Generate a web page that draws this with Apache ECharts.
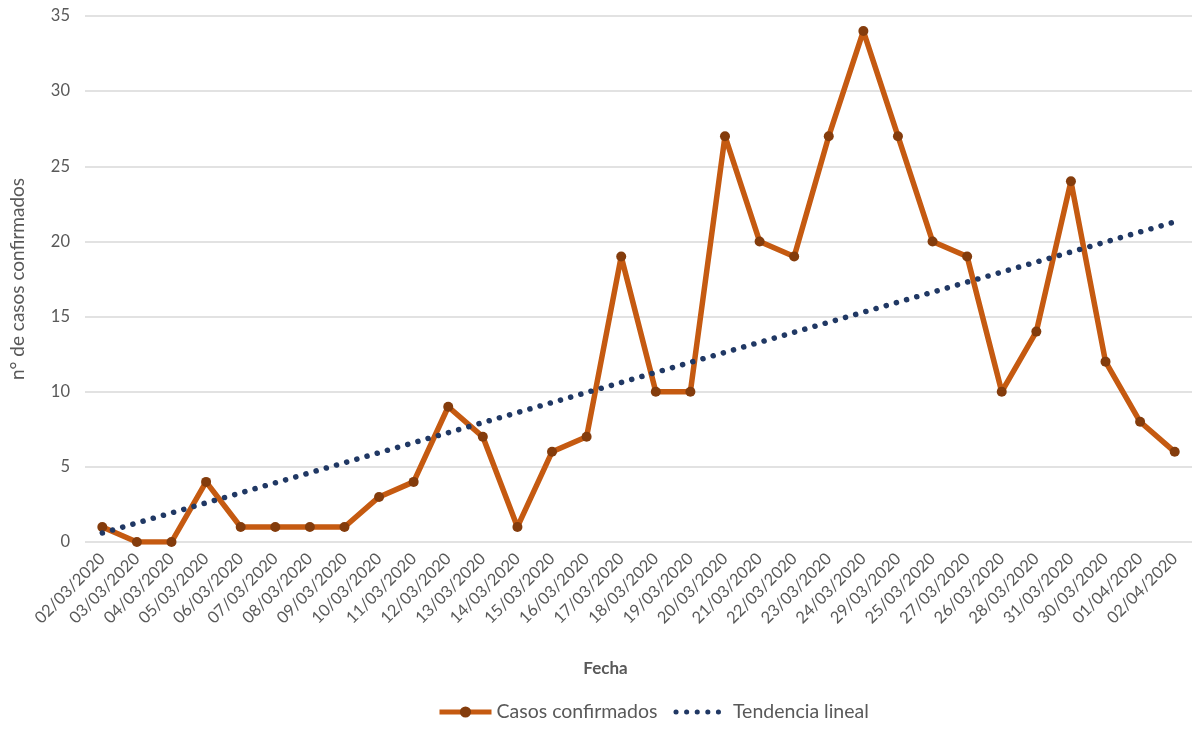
<!DOCTYPE html>
<html>
<head>
<meta charset="utf-8">
<script src="https://cdn.jsdelivr.net/npm/echarts@6/dist/echarts.min.js"></script>
<style>
  html, body { margin: 0; padding: 0; background: #fff; }
  #chart { width: 1192px; height: 729px; }
</style>
</head>
<body>
<div id="chart"></div>
<script>
var fechas = ['02/03/2020', '03/03/2020', '04/03/2020', '05/03/2020', '06/03/2020', '07/03/2020',
    '08/03/2020', '09/03/2020', '10/03/2020', '11/03/2020', '12/03/2020', '13/03/2020',
    '14/03/2020', '15/03/2020', '16/03/2020', '17/03/2020', '18/03/2020', '19/03/2020',
    '20/03/2020', '21/03/2020', '22/03/2020', '23/03/2020', '24/03/2020', '29/03/2020',
    '25/03/2020', '27/03/2020', '26/03/2020', '28/03/2020', '31/03/2020', '30/03/2020',
    '01/04/2020', '02/04/2020'];
var casos = [1, 0, 0, 4, 1, 1, 1, 1, 3, 4, 9, 7, 1, 6, 7, 19, 10, 10, 27, 20, 19, 27, 34, 27,
    20, 19, 10, 14, 24, 12, 8, 6];
// trend line end points
var tendencia = [['02/03/2020', 0.6], ['02/04/2020', 21.3]];

var chart = echarts.init(document.getElementById('chart'));
var gris = '#595959';

var option = {
    animation: false,
    textStyle: { fontFamily: 'Lato, Open Sans, sans-serif' },
    grid: { left: 83, right: 0, top: 16, bottom: 187 },
    legend: {
        bottom: 2,
        left: 432,
        itemWidth: 52,
        itemHeight: 14,
        itemGap: 16,
        textStyle: { color: gris, fontSize: 19.5 },
        data: [
            { name: 'Casos confirmados', lineStyle: { width: 5 } },
            { name: 'Tendencia lineal', itemStyle: { opacity: 0 }, lineStyle: { width: 5 } }
        ]
    },
    xAxis: {
        type: 'category',
        data: fechas,
        boundaryGap: true,
        name: 'Fecha',
        nameLocation: 'middle',
        nameGap: 118,
        nameTextStyle: { color: gris, fontSize: 17, fontWeight: 'bold', padding: [0, 66, 0, 0] },
        axisLine: { show: false },
        axisTick: { show: false },
        axisLabel: { rotate: 45, color: gris, fontSize: 16.5, interval: 0, margin: 14 }
    },
    yAxis: {
        type: 'value',
        min: 0,
        max: 35,
        interval: 5,
        name: 'n° de casos confirmados',
        nameLocation: 'middle',
        nameGap: 58,
        nameTextStyle: { color: gris, fontSize: 19 },
        axisLabel: { color: gris, fontSize: 16.5, margin: 15 },
        splitLine: { lineStyle: { color: '#d9d9d9', width: 1.5 } }
    },
    series: [
        {
            name: 'Casos confirmados',
            type: 'line',
            data: casos,
            symbol: 'circle',
            symbolSize: 10,
            lineStyle: { color: '#c55a11', width: 5.5 },
            itemStyle: { color: '#843c0c', borderWidth: 0 },
            z: 3
        },
        {
            name: 'Tendencia lineal',
            type: 'line',
            data: tendencia,
            symbol: 'none',
            lineStyle: { color: '#203864', width: 5.5, type: [0.1, 10.5], cap: 'round' },
            itemStyle: { color: '#203864' },
            z: 4
        }
    ]
};

chart.setOption(option);
</script>
</body>
</html>
